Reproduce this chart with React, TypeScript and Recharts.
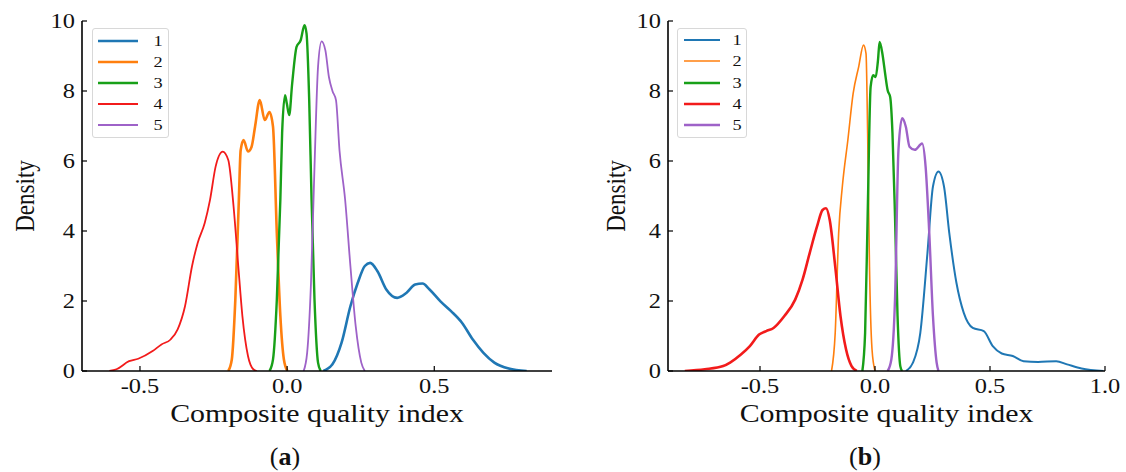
import React from 'react';
import { LineChart, Line, XAxis, YAxis, Legend, Label } from 'recharts';

const SERIF = '"Liberation Serif", "Times New Roman", serif';
const SX = 1.22; // the source figure is stretched a bit horizontally

const seriesNames = ['1', '2', '3', '4', '5'];
const seriesColors = ['#1f77b4', '#ff7f0e', '#18a018', '#f21b1b', '#9e62c8'];
const yTicks = [0, 2, 4, 6, 8, 10];

// panel (a)
const a1X = [0.123, 0.154, 0.185, 0.215, 0.24, 0.264, 0.282, 0.307, 0.337, 0.374, 0.405, 0.435, 0.46, 0.484, 0.521, 0.557, 0.594, 0.631, 0.667, 0.704, 0.753, 0.814];
const a1Y = [0, 0.19, 0.81, 1.85, 2.52, 3.0, 3.09, 2.85, 2.33, 2.09, 2.23, 2.47, 2.5, 2.33, 1.99, 1.71, 1.38, 0.9, 0.52, 0.24, 0.07, 0];
const a2X = [-0.2, -0.188, -0.176, -0.164, -0.158, -0.148, -0.133, -0.121, -0.109, -0.093, -0.076, -0.06, -0.048, -0.035, -0.023, -0.011, 0.001];
const a2Y = [0, 0.33, 2.04, 4.9, 6.3, 6.6, 6.27, 6.4, 6.98, 7.74, 7.17, 7.4, 6.98, 3.94, 1.57, 0.33, 0];
const a3X = [-0.06, -0.048, -0.035, -0.023, -0.017, -0.007, -0.001, 0.007, 0.017, 0.032, 0.046, 0.059, 0.066, 0.075, 0.083, 0.093, 0.105, 0.114];
const a3Y = [0, 0.33, 2.04, 4.9, 6.8, 7.88, 7.64, 7.31, 8.2, 9.26, 9.45, 9.88, 9.64, 7.74, 4.9, 2.04, 0.24, 0];
const a4X = [-0.604, -0.58, -0.537, -0.506, -0.457, -0.427, -0.396, -0.372, -0.347, -0.323, -0.304, -0.28, -0.262, -0.243, -0.219, -0.2, -0.182, -0.166, -0.152, -0.133, -0.115, -0.103];
const a4Y = [0, 0.05, 0.28, 0.35, 0.57, 0.76, 0.9, 1.19, 1.85, 3.0, 3.66, 4.23, 4.89, 5.84, 6.27, 6.03, 4.7, 3.0, 1.57, 0.43, 0.05, 0];
const a5X = [0.056, 0.068, 0.081, 0.093, 0.105, 0.117, 0.13, 0.142, 0.154, 0.166, 0.178, 0.197, 0.215, 0.233, 0.252, 0.264];
const a5Y = [0, 0.52, 2.5, 5.84, 8.69, 9.42, 9.16, 8.4, 8.0, 7.74, 6.3, 4.9, 3.0, 1.28, 0.24, 0];

// panel (b)
const b1X = [0.134, 0.165, 0.197, 0.228, 0.252, 0.276, 0.3, 0.323, 0.354, 0.386, 0.425, 0.473, 0.512, 0.551, 0.599, 0.646, 0.709, 0.788, 0.835, 0.898, 0.993];
const b1Y = [0, 0.24, 1.09, 3.37, 5.27, 5.7, 5.27, 3.94, 2.52, 1.66, 1.23, 1.14, 0.71, 0.5, 0.43, 0.28, 0.26, 0.28, 0.19, 0.07, 0];
const b2X = [-0.189, -0.173, -0.158, -0.142, -0.118, -0.095, -0.071, -0.05, -0.039, -0.032, -0.024, -0.013, 0];
const b2Y = [0, 1.09, 3.94, 5.27, 6.6, 7.93, 8.69, 9.31, 9.07, 6.79, 2.99, 0.62, 0];
const b3X = [-0.055, -0.043, -0.032, -0.019, -0.008, 0.003, 0.013, 0.02, 0.032, 0.044, 0.055, 0.066, 0.076, 0.087, 0.098, 0.11, 0.118];
const b3Y = [0, 1.09, 4.42, 8.12, 8.45, 8.4, 8.88, 9.4, 9.07, 8.5, 8.02, 7.83, 6.79, 4.42, 1.57, 0.14, 0];
const b4X = [-0.827, -0.74, -0.66, -0.63, -0.583, -0.544, -0.504, -0.473, -0.441, -0.394, -0.347, -0.315, -0.284, -0.252, -0.228, -0.213, -0.197, -0.173, -0.15, -0.126, -0.102, -0.079];
const b4Y = [0, 0.05, 0.14, 0.24, 0.47, 0.71, 1.04, 1.14, 1.23, 1.57, 2.04, 2.61, 3.37, 4.13, 4.6, 4.65, 4.32, 2.99, 1.57, 0.62, 0.14, 0];
const b5X = [0.055, 0.071, 0.087, 0.102, 0.118, 0.134, 0.15, 0.173, 0.205, 0.22, 0.236, 0.252, 0.268, 0.276];
const b5Y = [0, 0.33, 2.04, 6.32, 7.22, 6.98, 6.41, 6.32, 6.5, 5.84, 3.94, 1.57, 0.24, 0];

const zip = (xs: number[], ys: number[]) => xs.map((x, i) => ({ x, y: ys[i] }));

const panelA = [zip(a1X, a1Y), zip(a2X, a2Y), zip(a3X, a3Y), zip(a4X, a4Y), zip(a5X, a5Y)];
const panelB = [zip(b1X, b1Y), zip(b2X, b2Y), zip(b3X, b3Y), zip(b4X, b4Y), zip(b5X, b5Y)];

const XTick = (props: any) => {
  const { x, y, payload } = props;
  return (
    <text transform={`translate(${x},${y + 22}) scale(${SX},1)`} textAnchor="middle"
      fontFamily={SERIF} fontSize={20} fill="#111">
      {Number(payload.value).toFixed(1)}
    </text>
  );
};

const YTick = (props: any) => {
  const { x, y, payload } = props;
  return (
    <text transform={`translate(${x - 7},${y + 7}) scale(${SX},1)`} textAnchor="end"
      fontFamily={SERIF} fontSize={20} fill="#111">
      {payload.value}
    </text>
  );
};

interface LegendGeom {
  left: number;
  top: number;
  width: number;
  lineFrom: number;
  lineTo: number;
  labelX: number;
  rows: number[];
}

const LegendBox = ({ g, widths }: { g: LegendGeom; widths: number[] }) => (
  <div style={{ width: g.width, height: 110, border: '1px solid #d8d8d8', borderRadius: 3, background: 'rgba(255,255,255,0.85)', boxSizing: 'border-box' }}>
    <svg width={g.width - 2} height={108} style={{ display: 'block' }}>
      {seriesNames.map((n, i) => (
        <g key={n}>
          <line x1={g.lineFrom} x2={g.lineTo} y1={g.rows[i]} y2={g.rows[i]} stroke={seriesColors[i]} strokeWidth={widths[i]} />
          <text transform={`translate(${g.labelX},${g.rows[i] + 5}) scale(${SX},1)`} textAnchor="middle"
            fontFamily={SERIF} fontSize={15} fill="#111">{n}</text>
        </g>
      ))}
    </svg>
  </div>
);

interface PanelProps {
  left: number;
  width: number;
  marginLeft: number;
  marginRight: number;
  domain: [number, number];
  xTicks: number[];
  lines: { x: number; y: number }[][];
  widths: number[];
  legend: LegendGeom;
  densityOffset: number;
}

const Panel = (p: PanelProps) => (
  <div style={{ position: 'absolute', left: p.left, top: 0, width: p.width, height: 472 }}>
    <LineChart width={p.width} height={472} margin={{ top: 21, right: p.marginRight, bottom: 71, left: p.marginLeft - 30 }}>
      <XAxis type="number" dataKey="x" domain={p.domain} ticks={p.xTicks} allowDataOverflow height={30}
        axisLine={{ stroke: '#000', strokeWidth: 1.6 }} tickLine={{ stroke: '#000', strokeWidth: 1.2 }}
        tickSize={-5} tickMargin={5} tick={<XTick />} interval={0}>
        <Label content={(lp: any) => {
          const vb = lp.viewBox;
          return (
            <text transform={`translate(${vb.x + vb.width / 2},${vb.y + 51}) scale(${SX},1)`} textAnchor="middle"
              fontFamily={SERIF} fontSize={24.5} fill="#111">Composite quality index</text>
          );
        }} />
      </XAxis>
      <YAxis type="number" domain={[0, 10]} ticks={yTicks} allowDataOverflow width={30}
        axisLine={{ stroke: '#000', strokeWidth: 1.6 }} tickLine={{ stroke: '#000', strokeWidth: 1.2 }}
        tickSize={-5} tickMargin={5} tick={<YTick />} interval={0}>
        <Label content={(lp: any) => {
          const vb = lp.viewBox;
          const cx = vb.x + vb.width - p.densityOffset;
          const cy = vb.y + vb.height / 2;
          return (
            <text transform={`translate(${cx},${cy}) rotate(-90) scale(1,${SX})`} textAnchor="middle"
              fontFamily={SERIF} fontSize={23} fill="#111">Density</text>
          );
        }} />
      </YAxis>
      <Legend layout="horizontal" verticalAlign="middle" align="center"
        wrapperStyle={{ position: 'absolute', left: p.legend.left, top: p.legend.top, width: p.legend.width, height: 110 }}
        content={() => <LegendBox g={p.legend} widths={p.widths} />} />
      {p.lines.map((d, i) => (
        <Line key={seriesNames[i]} data={d} dataKey="y" name={seriesNames[i]} type="monotone"
          stroke={seriesColors[i]} strokeWidth={p.widths[i]} dot={false} activeDot={false}
          isAnimationActive={false} />
      ))}
    </LineChart>
  </div>
);

const Caption = ({ x, letter }: { x: number; letter: string }) => (
  <div style={{ position: 'absolute', left: x - 40, width: 80, top: 442, textAlign: 'center', fontFamily: SERIF, fontSize: 26, color: '#111', lineHeight: '30px' }}>
    (<b>{letter}</b>)
  </div>
);

export default function App() {
  return (
    <div style={{ position: 'absolute', left: 0, top: 0, width: 1126, height: 472, background: '#fff', overflow: 'hidden' }}>
      <Panel left={0} width={560} marginLeft={82} marginRight={8} domain={[-0.697, 0.9]} xTicks={[-0.5, 0, 0.5]}
        lines={panelA} widths={[2.6, 2.6, 2.4, 1.8, 1.8]} densityOffset={48}
        legend={{ left: 92, top: 28, width: 77, lineFrom: 5, lineTo: 45, labelX: 65, rows: [12, 33, 54, 75, 96] }} />
      <Panel left={560} width={566} marginLeft={108} marginRight={21} domain={[-0.9, 1.0]} xTicks={[-0.5, 0, 0.5, 1.0]}
        lines={panelB} widths={[2, 1.6, 2.4, 2.6, 2.4]} densityOffset={43}
        legend={{ left: 117, top: 28, width: 70, lineFrom: 6, lineTo: 42, labelX: 59, rows: [11, 32, 54, 75, 96] }} />
      <Caption x={285} letter="a" />
      <Caption x={865} letter="b" />
    </div>
  );
}
